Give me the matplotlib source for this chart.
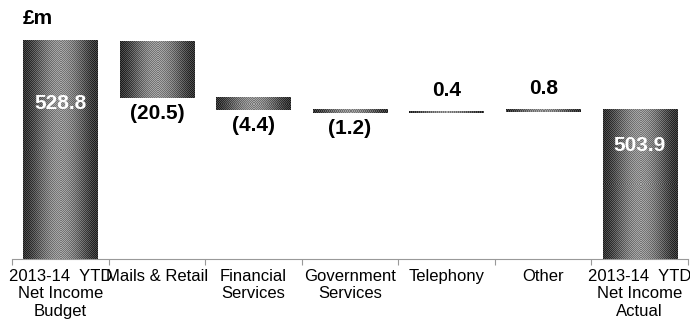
import numpy as np
import matplotlib
matplotlib.use("Agg")
from matplotlib import pyplot as plt

plt.rcParams["font.family"] = ["Liberation Sans", "DejaVu Sans"]

# waterfall data, £m
categories = ["2013-14  YTD\nNet Income\nBudget", "Mails & Retail", "Financial\nServices",
              "Government\nServices", "Telephony", "Other", "2013-14  YTD\nNet Income\nActual"]
budget = 528.8
changes = [-20.5, -4.4, -1.2, 0.4, 0.8]
actual = 503.9
value_labels = ["528.8", "(20.5)", "(4.4)", "(1.2)", "0.4", "0.8", "503.9"]

# bottoms / tops of each bar
y_min = 450
bottoms = [y_min]
tops = [budget]
level = budget
for c in changes:
    bottoms.append(min(level, level + c))
    tops.append(max(level, level + c))
    level += c
bottoms.append(y_min)
tops.append(actual)

fig = plt.figure(figsize=(6.9, 3.23), dpi=100)
ax = fig.add_axes([12 / 690, 1 - 259 / 323, 676 / 690, 249 / 323])
ax.set_xlim(-0.5, 6.5)
ax.set_ylim(y_min, 540)

width = 0.77
px_per_x = 676 / 7
px_per_y = 249 / 90


def shaded_bar(x, y0, y1):
    # cylinder-like grey shading with a fine halftone grain
    w = max(int(round(width * px_per_x)), 2)
    h = max(int(round((y1 - y0) * px_per_y)), 1)
    t = np.linspace(0, 1, w)
    profile = 0.2 + 0.36 * np.sin(np.pi * t) ** 1.5
    img = np.tile(profile, (h, 1))
    jj, ii = np.meshgrid(np.arange(w), np.arange(h))
    checker = ((ii + jj) % 2) * 2 - 1
    img = np.clip(img + 0.1 * checker, 0, 1)
    ax.imshow(img, extent=[x - width / 2, x + width / 2, y0, y1], cmap="gray",
              vmin=0, vmax=1, aspect="auto", interpolation="nearest", zorder=2)


xs = np.arange(len(categories))
for x, b, t in zip(xs, bottoms, tops):
    shaded_bar(x, b, t)

ax.set_xlim(-0.5, 6.5)
ax.set_ylim(y_min, 540)

# value labels
lab_kw = dict(ha="center", fontsize=15, fontweight="bold")
ax.text(xs[0], budget - 22.5, value_labels[0], color="white", va="center", **lab_kw)
ax.text(xs[6], actual - 13, value_labels[6], color="white", va="center", **lab_kw)
for i, c in enumerate(changes, start=1):
    if c < 0:
        ax.text(xs[i], bottoms[i] - 2.2, value_labels[i], color="black", va="top", **lab_kw)
    else:
        ax.text(xs[i], tops[i] + 4.2, value_labels[i], color="black", va="bottom", **lab_kw)

# axes styling
for s in ["top", "right", "left"]:
    ax.spines[s].set_visible(False)
ax.spines["bottom"].set_color("#999999")
ax.spines["bottom"].set_linestyle((0, (1, 1)))
ax.spines["bottom"].set_linewidth(0.8)
ax.set_yticks([])
ax.set_xticks(xs)
ax.set_xticklabels(categories, fontsize=12, linespacing=1.22)
ax.tick_params(axis="x", which="major", length=0, pad=7)
ax.set_xticks(np.arange(-0.5, 7, 1), minor=True)
ax.tick_params(axis="x", which="minor", length=4.5, color="#999999", width=0.8)

fig.text(23 / 690, 1 - 18 / 323, "£m", fontsize=15, fontweight="bold", va="center")

fig.savefig("out.png", dpi=100)
